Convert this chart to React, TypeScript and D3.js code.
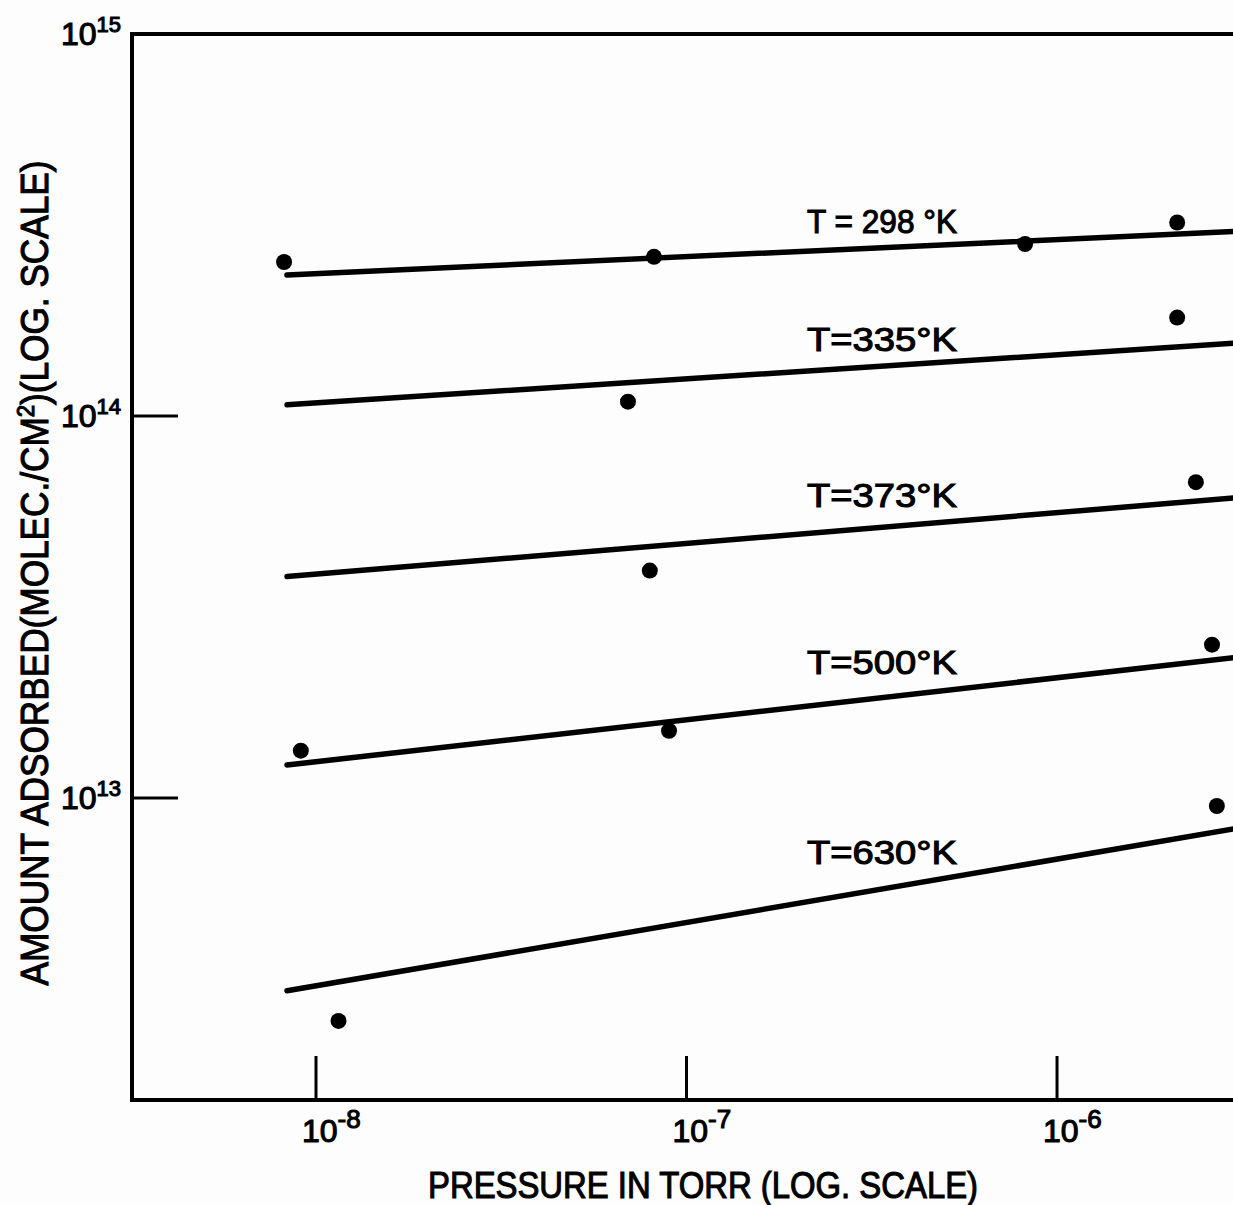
import * as d3 from "d3";

// pressure (torr) where each fitted line starts and ends
const fitStart = 8.35e-9;
const fitEnd = 3.0e-6;

const temperatures = [298, 335, 373, 500, 630];
const seriesLabels = ["T = 298 °K", "T=335°K", "T=373°K", "T=500°K", "T=630°K"];

// fitted amount (molec./cm²) at fitStart and fitEnd
const fitLeft = [2.34e14, 1.07e14, 3.8e13, 1.22e13, 3.13e12];
const fitRight = [3.04e14, 1.55e14, 6.1e13, 2.33e13, 8.3e12];

// measured points per temperature
const pressures298 = [8.2e-9, 8.17e-8, 8.2e-7, 2.11e-6];
const amounts298 = [2.53e14, 2.61e14, 2.82e14, 3.21e14];
const pressures335 = [6.95e-8, 2.11e-6];
const amounts335 = [1.09e14, 1.81e14];
const pressures373 = [7.96e-8, 2.37e-6];
const amounts373 = [3.94e13, 6.71e13];
const pressures500 = [9.1e-9, 8.97e-8, 2.62e-6];
const amounts500 = [1.33e13, 1.5e13, 2.52e13];
const pressures630 = [1.15e-8, 2.7e-6];
const amounts630 = [2.61e12, 9.53e12];

// where the "T = ..." annotations sit (data coordinates, text baseline)
const labelPressure = 3.37e-7;
const labelAmounts = [3.01e14, 1.48e14, 5.77e13, 2.11e13, 6.71e12];

const xTicks = [1e-8, 1e-7, 1e-6];
const xTickExps = ["-8", "-7", "-6"];
const yTicks = [1e15, 1e14, 1e13];
const yTickExps = ["15", "14", "13"];

const xDomain: [number, number] = [3.187e-9, 2.985e-6];
const yDomain: [number, number] = [1.62e12, 1e15];

const W = 1233;
const H = 1205;
const left = 132;
const top = 34;
const bottom = 1100;
const right = W;

const font = "'Liberation Sans', Arial, sans-serif";

export default function App() {
  const x = d3.scaleLog().domain(xDomain).range([left, right]);
  const y = d3.scaleLog().domain(yDomain).range([bottom, top]);

  const points = [
    d3.zip(pressures298, amounts298),
    d3.zip(pressures335, amounts335),
    d3.zip(pressures373, amounts373),
    d3.zip(pressures500, amounts500),
    d3.zip(pressures630, amounts630),
  ];

  const line = d3
    .line<[number, number]>()
    .x((d) => x(d[0]))
    .y((d) => y(d[1]));

  // stroke on the glyphs to get closer to the heavy hand lettering
  const ink = { fill: "#000", stroke: "#000", strokeWidth: 1.1 };

  return (
    <svg
      width={W}
      height={H}
      style={{ position: "absolute", left: 0, top: 0, background: "#fdfdfd" }}
      fontFamily={font}
    >
      {/* frame: left, top, bottom */}
      <path
        d={`M${right},${top}H${left}V${bottom}H${right}`}
        fill="none"
        stroke="#000"
        strokeWidth={4}
      />

      {/* y ticks */}
      {yTicks.map((t, i) => (
        <g key={"y" + i}>
          {i > 0 && (
            <line x1={left} x2={left + 46} y1={y(t)} y2={y(t)} stroke="#000" strokeWidth={3} />
          )}
          <text x={121} y={y(t) + 11} textAnchor="end" fontSize={32} {...ink}>
            10
            <tspan fontSize={22} dy={-13}>
              {yTickExps[i]}
            </tspan>
          </text>
        </g>
      ))}

      {/* x ticks */}
      {xTicks.map((t, i) => (
        <g key={"x" + i}>
          <line x1={x(t)} x2={x(t)} y1={bottom} y2={bottom - 44} stroke="#000" strokeWidth={3} />
          <text x={x(t) - 14} y={bottom + 42} fontSize={32} {...ink}>
            10
            <tspan fontSize={26} dy={-14}>
              {xTickExps[i]}
            </tspan>
          </text>
        </g>
      ))}

      {/* axis titles */}
      <text
        x={703}
        y={1198}
        textAnchor="middle"
        fontSize={36}
        textLength={550}
        lengthAdjust="spacingAndGlyphs"
        {...ink}
      >
        PRESSURE IN TORR (LOG. SCALE)
      </text>
      <text
        transform={`translate(48,573) rotate(-90)`}
        textAnchor="middle"
        fontSize={38}
        textLength={825}
        lengthAdjust="spacingAndGlyphs"
        {...ink}
      >
        AMOUNT ADSORBED(MOLEC./CM
        <tspan fontSize={24} dy={-14}>
          2
        </tspan>
        <tspan dy={14}>)(LOG. SCALE)</tspan>
      </text>

      {/* fitted lines, points and labels */}
      {temperatures.map((temp, i) => (
        <g key={temp}>
          <path
            d={line([
              [fitStart, fitLeft[i]],
              [fitEnd, fitRight[i]],
            ]) ?? ""}
            fill="none"
            stroke="#000"
            strokeWidth={5.5}
            strokeLinecap="round"
          />
          {points[i].map((p, j) => (
            <circle key={j} cx={x(p[0])} cy={y(p[1])} r={8} fill="#000" />
          ))}
          <text
            x={x(labelPressure)}
            y={y(labelAmounts[i])}
            textAnchor="middle"
            fontSize={34}
            textLength={150}
            lengthAdjust="spacingAndGlyphs"
            {...ink}
          >
            {seriesLabels[i]}
          </text>
        </g>
      ))}
    </svg>
  );
}
